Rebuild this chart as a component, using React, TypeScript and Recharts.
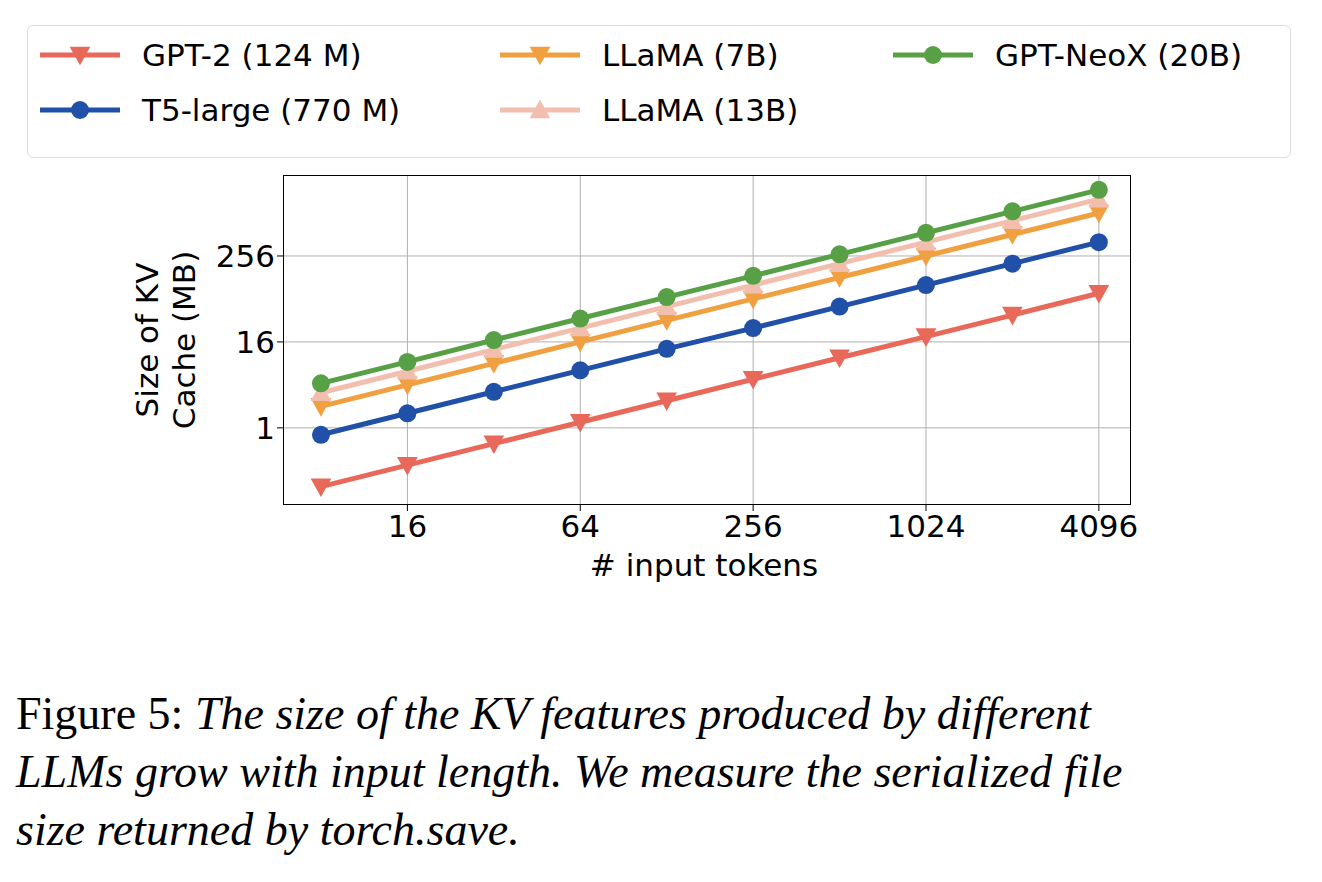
import { LineChart, Line, XAxis, YAxis, CartesianGrid } from 'recharts';

const tokens = [8, 16, 32, 64, 128, 256, 512, 1024, 2048, 4096];
const gpt2 = [0.15, 0.3, 0.6, 1.2, 2.4, 4.8, 9.6, 19, 38, 77];
const t5 = [0.8, 1.6, 3.2, 6.4, 12.8, 25, 50, 100, 200, 400];
const llama7 = [2, 4, 8, 16, 32, 64, 128, 256, 512, 1024];
const llama13 = [3.1, 6.2, 12.5, 25, 50, 100, 200, 400, 800, 1600];
const neox = [4.2, 8.4, 17, 34, 68, 135, 270, 540, 1080, 2160];
const xTicks = [16, 64, 256, 1024, 4096];
const yTicks = [1, 16, 256];

const data = tokens.map((t, i) => ({
  t, gpt2: gpt2[i], t5: t5[i], llama7: llama7[i], llama13: llama13[i], neox: neox[i],
}));

const series = [
  { key: 'gpt2', name: 'GPT-2 (124 M)', color: '#e8685a', shape: 'down' },
  { key: 't5', name: 'T5-large (770 M)', color: '#2150a8', shape: 'circle' },
  { key: 'llama7', name: 'LLaMA (7B)', color: '#f0a040', shape: 'down' },
  { key: 'llama13', name: 'LLaMA (13B)', color: '#f2bfae', shape: 'up' },
  { key: 'neox', name: 'GPT-NeoX (20B)', color: '#58a045', shape: 'circle' },
];

const Marker = ({ cx, cy, color, shape, r = 9 }: any) => {
  if (cx == null || cy == null) return null;
  if (shape === 'circle') return <circle cx={cx} cy={cy} r={r} fill={color} />;
  const s = r * 1.15;
  const pts = shape === 'down'
    ? `${cx - s},${cy - s * 0.8} ${cx + s},${cy - s * 0.8} ${cx},${cy + s}`
    : `${cx - s},${cy + s * 0.8} ${cx + s},${cy + s * 0.8} ${cx},${cy - s}`;
  return <polygon points={pts} fill={color} />;
};

const font = '"DejaVu Sans", sans-serif';

const legendOrder = [0, 2, 4, 1, 3];
const legendPos = [
  { left: 40, top: 55 }, { left: 500, top: 55 }, { left: 893, top: 55 },
  { left: 40, top: 110 }, { left: 500, top: 110 },
];

export default function App() {
  return (
    <div style={{ position: 'fixed', left: 0, top: 0, width: 1322, height: 882, background: '#fff', fontFamily: font }}>
      <div style={{ position: 'absolute', left: 27, top: 25, width: 1264, height: 133, border: '1.5px solid #ddd', borderRadius: 6, boxSizing: 'border-box' }} />
      {legendOrder.map((si, i) => {
        const s = series[si];
        return (
          <div key={s.key} style={{ position: 'absolute', left: legendPos[i].left, top: legendPos[i].top - 20, display: 'flex', alignItems: 'center', fontSize: 31 }}>
            <svg width={80} height={40}>
              <line x1={0} y1={20} x2={80} y2={20} stroke={s.color} strokeWidth={5} />
              <Marker cx={40} cy={20} color={s.color} shape={s.shape} />
            </svg>
            <span style={{ marginLeft: 22 }}>{s.name}</span>
          </div>
        );
      })}
      <div style={{ position: 'absolute', left: 0, top: 0 }}>
        <LineChart width={1322} height={620} data={data} margin={{ top: 175, left: 203, right: 191, bottom: 55 }}>
          <CartesianGrid stroke="#b0b0b0" strokeWidth={1} horizontalValues={yTicks} verticalValues={xTicks} />
          <XAxis dataKey="t" type="number" scale="log" domain={[5.9, 5300]} ticks={xTicks} allowDataOverflow
            height={60} tick={{ fontSize: 31, fill: '#000', fontFamily: font }} tickLine={{ stroke: '#000' }} axisLine={false} tickMargin={4} />
          <YAxis type="number" scale="log" domain={[0.083, 3490]} ticks={yTicks} allowDataOverflow
            width={80} tick={{ fontSize: 31, fill: '#000', fontFamily: font }} tickLine={{ stroke: '#000' }} axisLine={false} />
          {series.map(s => (
            <Line key={s.key} dataKey={s.key} stroke={s.color} strokeWidth={5} isAnimationActive={false}
              dot={(p: any) => <Marker key={p.index} cx={p.cx} cy={p.cy} color={s.color} shape={s.shape} />} />
          ))}
        </LineChart>
      </div>
      <div style={{ position: 'absolute', left: 283, top: 175, width: 848, height: 330, border: '1.5px solid #000', boxSizing: 'border-box', pointerEvents: 'none' }} />
      <div style={{ position: 'absolute', left: 166, top: 340, transform: 'translate(-50%,-50%) rotate(-90deg)', fontSize: 31, textAlign: 'center', lineHeight: '37px', whiteSpace: 'nowrap' }}>
        Size of KV<br />Cache (MB)
      </div>
      <div style={{ position: 'absolute', left: 704, top: 565, transform: 'translate(-50%,-50%)', fontSize: 31, whiteSpace: 'nowrap' }}>
        # input tokens
      </div>
      <div style={{ position: 'absolute', left: 16, top: 685, width: 1300, fontFamily: '"Liberation Serif", serif', fontSize: 46, lineHeight: '58px', whiteSpace: 'nowrap' }}>
        Figure 5: <i>The size of the KV features produced by different</i><br />
        <i>LLMs grow with input length. We measure the serialized file</i><br />
        <i>size returned by torch.save.</i>
      </div>
    </div>
  );
}
